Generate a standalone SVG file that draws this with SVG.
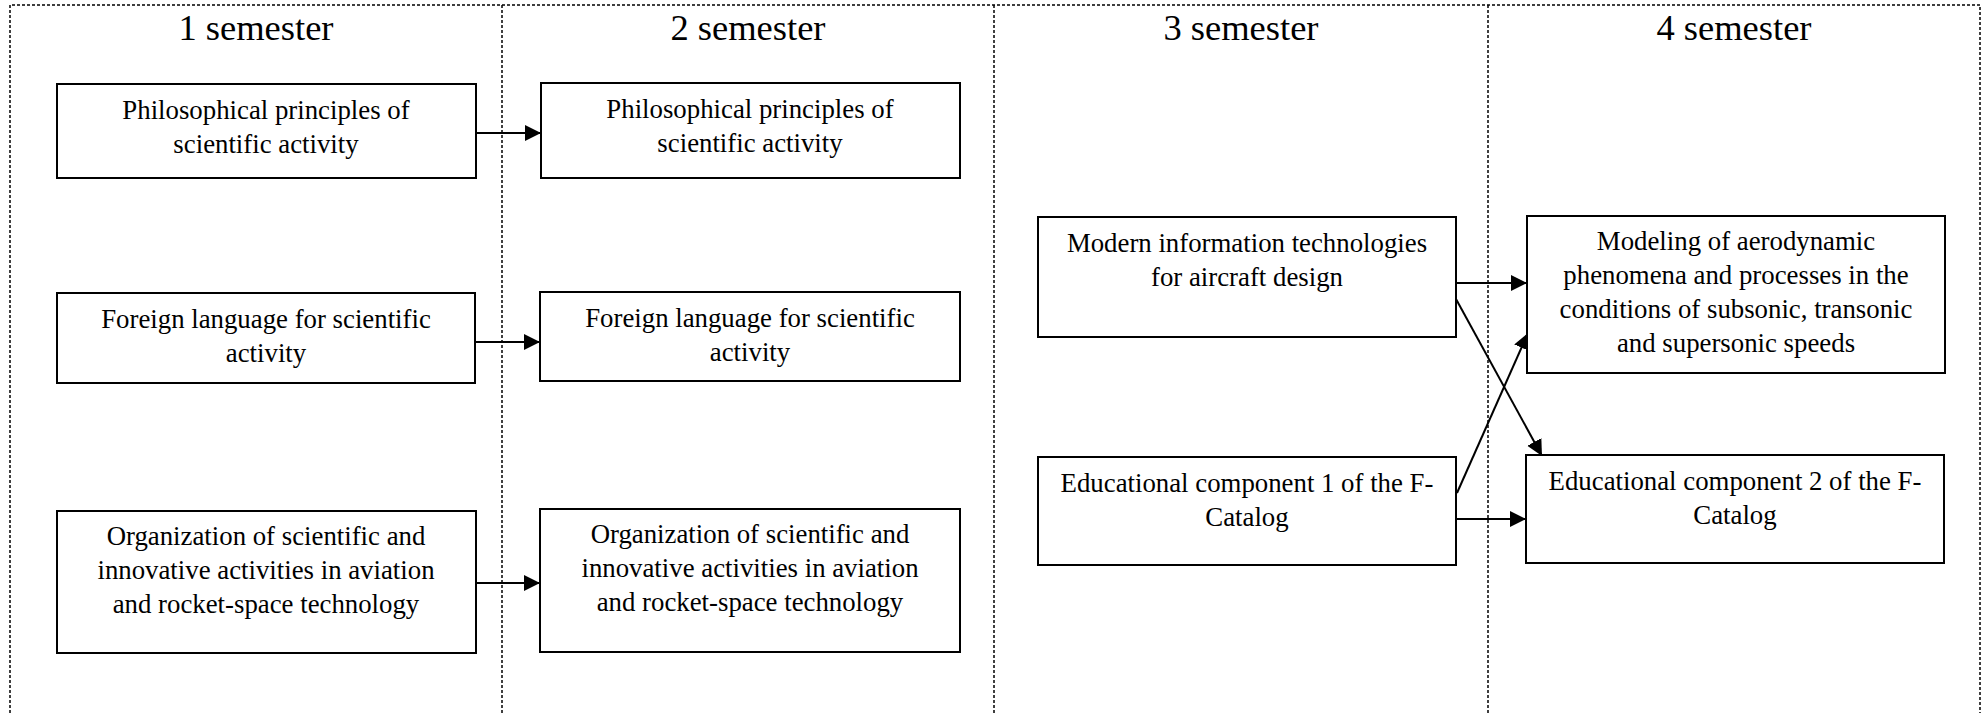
<svg xmlns="http://www.w3.org/2000/svg" width="1981" height="713" viewBox="0 0 1981 713">
<style>
.bg{fill:#fff}
.grid{stroke:#000;stroke-width:1.5;stroke-dasharray:3 2;fill:none}
.box{fill:#fff;stroke:#000;stroke-width:2}
.t{font-family:"Liberation Serif","Times New Roman",serif;font-size:26.8px;fill:#000;text-anchor:middle}
.h{font-family:"Liberation Serif","Times New Roman",serif;font-size:36.5px;fill:#000;text-anchor:middle}
.c{stroke:#000;stroke-width:2;fill:none;marker-end:url(#arr)}
</style>
<defs>
<marker id="arr" markerUnits="userSpaceOnUse" markerWidth="17" markerHeight="17" refX="16" refY="8" orient="auto">
<path d="M0,0 L16,8 L0,16 z" fill="#000"/>
</marker>
</defs>
<rect class="bg" x="0" y="0" width="1981" height="713"/>
<g id="grid">
<path class="grid" d="M10,713 V5 H1980 V713 M502,5 V713 M994,5 V713 M1488,5 V713"/>
<text class="h" x="256" y="40">1 semester</text>
<text class="h" x="748" y="40">2 semester</text>
<text class="h" x="1241" y="40">3 semester</text>
<text class="h" x="1734" y="40">4 semester</text>
</g>
<g id="connectors">
<line class="c" x1="476" y1="133" x2="541" y2="133"/>
<line class="c" x1="475" y1="342" x2="540" y2="342"/>
<line class="c" x1="476" y1="583" x2="540" y2="583"/>
<line class="c" x1="1456" y1="283" x2="1527" y2="283"/>
<line class="c" x1="1456" y1="299" x2="1542" y2="456"/>
<line class="c" x1="1457" y1="493" x2="1528" y2="333"/>
<line class="c" x1="1456" y1="519" x2="1526" y2="519"/>
</g>
<g id="n1"><rect class="box" x="57" y="84" width="419" height="94"/>
<text class="t" x="266" y="119">Philosophical principles of</text><text class="t" x="266" y="153">scientific activity</text></g>
<g id="n2"><rect class="box" x="541" y="83" width="419" height="95"/>
<text class="t" x="750" y="118">Philosophical principles of</text><text class="t" x="750" y="152">scientific activity</text></g>
<g id="n3"><rect class="box" x="57" y="293" width="418" height="90"/>
<text class="t" x="266" y="328">Foreign language for scientific</text><text class="t" x="266" y="362">activity</text></g>
<g id="n4"><rect class="box" x="540" y="292" width="420" height="89"/>
<text class="t" x="750" y="327">Foreign language for scientific</text><text class="t" x="750" y="361">activity</text></g>
<g id="n5"><rect class="box" x="57" y="511" width="419" height="142"/>
<text class="t" x="266" y="545">Organization of scientific and</text><text class="t" x="266" y="579">innovative activities in aviation</text><text class="t" x="266" y="613">and rocket-space technology</text></g>
<g id="n6"><rect class="box" x="540" y="509" width="420" height="143"/>
<text class="t" x="750" y="543">Organization of scientific and</text><text class="t" x="750" y="577">innovative activities in aviation</text><text class="t" x="750" y="611">and rocket-space technology</text></g>
<g id="n7"><rect class="box" x="1038" y="217" width="418" height="120"/>
<text class="t" x="1247" y="252">Modern information technologies</text><text class="t" x="1247" y="286">for aircraft design</text></g>
<g id="n8"><rect class="box" x="1527" y="216" width="418" height="157"/>
<text class="t" x="1736" y="250">Modeling of aerodynamic</text><text class="t" x="1736" y="284">phenomena and processes in the</text><text class="t" x="1736" y="318">conditions of subsonic, transonic</text><text class="t" x="1736" y="352">and supersonic speeds</text></g>
<g id="n9"><rect class="box" x="1038" y="457" width="418" height="108"/>
<text class="t" x="1247" y="492">Educational component 1 of the F-</text><text class="t" x="1247" y="526">Catalog</text></g>
<g id="n10"><rect class="box" x="1526" y="455" width="418" height="108"/>
<text class="t" x="1735" y="490">Educational component 2 of the F-</text><text class="t" x="1735" y="524">Catalog</text></g>
</svg>
